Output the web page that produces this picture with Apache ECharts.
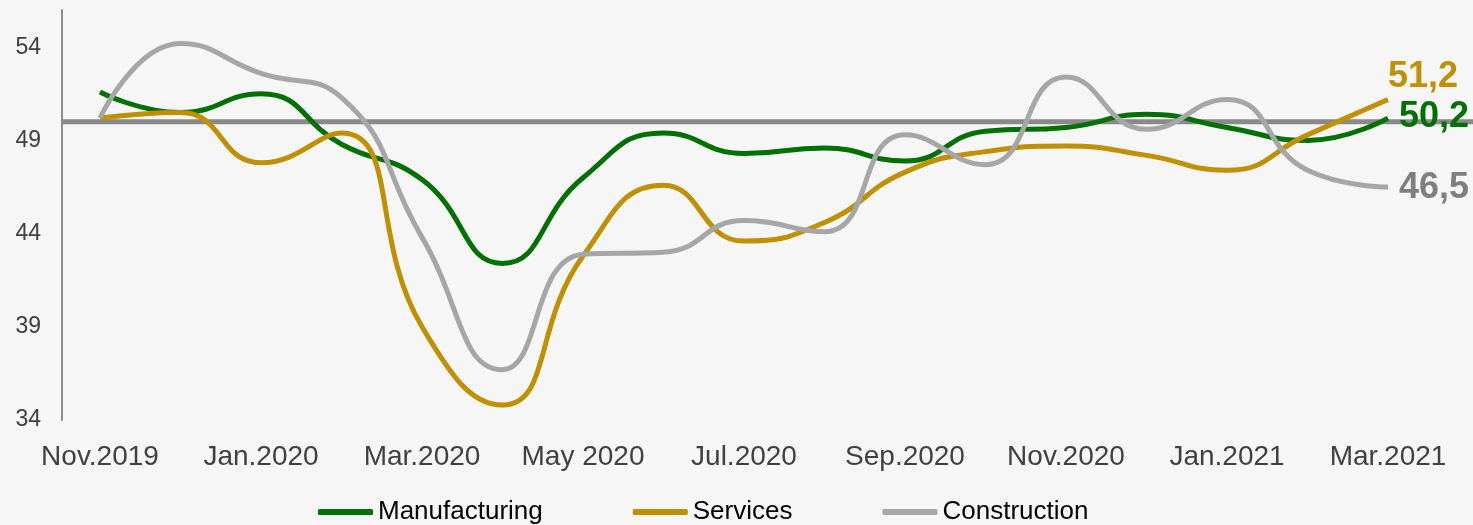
<!DOCTYPE html>
<html>
<head>
<meta charset="utf-8">
<script src="https://cdn.jsdelivr.net/npm/echarts@6/dist/echarts.min.js"></script>
<style>
  html, body { margin: 0; padding: 0; background: #f6f6f6; }
  #chart { width: 1473px; height: 525px; }
</style>
</head>
<body>
<div id="chart"></div>
<script>
// months shown on the x axis (labels every other month)
const months = ["Nov.2019", "Dec.2019", "Jan.2020", "Feb.2020", "Mar.2020", "Apr.2020",
  "May 2020", "Jun.2020", "Jul.2020", "Aug.2020", "Sep.2020", "Oct.2020",
  "Nov.2020", "Dec.2020", "Jan.2021", "Feb.2021", "Mar.2021"];

const manufacturing = [51.6, 50.5, 51.5, 48.8, 46.9, 42.4, 47.0, 49.4, 48.3, 48.6, 47.9, 49.5, 49.7, 50.4, 49.7, 49.0, 50.2];
const services = [50.2, 50.5, 47.8, 49.4, 39.0, 34.8, 42.8, 46.6, 43.6, 44.6, 47.3, 48.4, 48.7, 48.2, 47.4, 49.3, 51.2];
const construction = [50.2, 54.2, 52.6, 51.3, 43.8, 36.7, 42.9, 43.0, 44.7, 44.1, 49.3, 47.7, 52.4, 49.6, 51.2, 47.4, 46.5];

const refLevel = 50; // 50 = expansion / contraction threshold
const yTicks = [34, 39, 44, 49, 54];

const fmt = (v) => v.toFixed(1).replace(".", ",");

const chart = echarts.init(document.getElementById("chart"));

function lineSeries(name, data, color, labelColor, offset) {
  return {
    name,
    type: "line",
    data,
    xAxisIndex: 1,
    yAxisIndex: 1,
    smooth: 0.5,
    symbol: "none",
    z: 3,
    lineStyle: { color, width: 5 },
    itemStyle: { color },
    endLabel: {
      show: true,
      formatter: (p) => fmt(p.value),
      color: labelColor,
      fontFamily: "Liberation Sans, Arial, sans-serif",
      fontSize: 36,
      fontWeight: "bold",
      offset,
    },
  };
}

chart.setOption({
  animation: false,
  backgroundColor: "#f6f6f6",
  textStyle: { fontFamily: "Liberation Sans, Arial, sans-serif" },
  grid: [
    // outer grid: y axis + reference line across the full width
    { left: 62, right: 0, top: 10, bottom: 105 },
    // inner grid: data lines
    { left: 100, right: 85, top: 10, bottom: 105 },
  ],
  legend: {
    data: ["Manufacturing", "Services", "Construction"],
    icon: "roundRect",
    left: 313,
    top: 494,
    itemWidth: 55,
    itemHeight: 6,
    itemGap: 90,
    textStyle: { fontSize: 26, color: "#000" },
  },
  xAxis: [
    { type: "value", gridIndex: 0, min: 0, max: 1, show: false },
    {
      type: "category",
      gridIndex: 1,
      data: months,
      boundaryGap: false,
      axisLine: { show: false },
      axisTick: { show: false },
      splitLine: { show: false },
      axisLabel: { interval: 1, fontSize: 28, color: "#404040", margin: 23 },
    },
  ],
  yAxis: [
    {
      type: "value",
      gridIndex: 0,
      min: 34,
      max: 56,
      interval: 5,
      axisLine: { show: true, lineStyle: { color: "#8c8c8c", width: 2 } },
      axisTick: { show: false },
      splitLine: { show: false },
      axisLabel: {
        fontSize: 23,
        color: "#404040",
        margin: 21,
        formatter: (v) => (yTicks.includes(v) ? String(v) : ""),
      },
    },
    { type: "value", gridIndex: 1, min: 34, max: 56, show: false },
  ],
  series: [
    {
      name: "ref",
      type: "line",
      xAxisIndex: 0,
      yAxisIndex: 0,
      data: [[0, refLevel], [1, refLevel]],
      symbol: "none",
      z: 1,
      lineStyle: { color: "#898989", width: 5 },
    },
    lineSeries("Manufacturing", manufacturing, "#007000", "#007000", [3, -1]),
    lineSeries("Services", services, "#bf9000", "#bf9000", [-8, -22]),
    lineSeries("Construction", construction, "#a6a6a6", "#7f7f7f", [3, 1]),
  ],
});
</script>
</body>
</html>
